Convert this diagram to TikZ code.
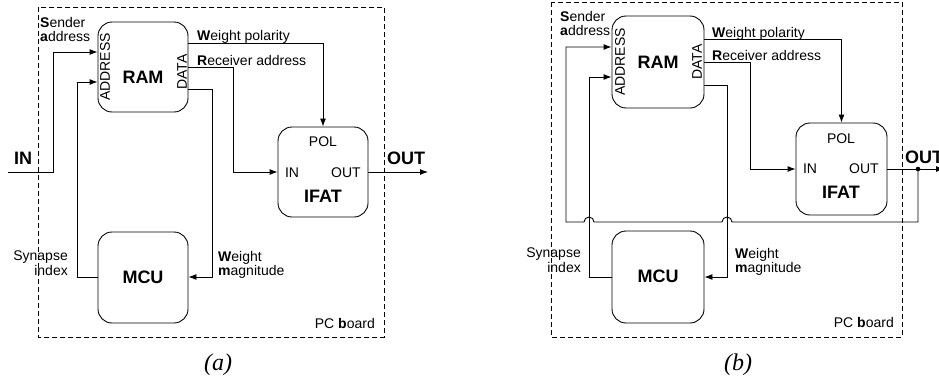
\documentclass[tikz,border=0pt]{standalone}
\usepackage{fontspec}
\setmainfont{Liberation Sans}
\newfontfamily\capserif{Liberation Serif}
\usetikzlibrary{arrows.meta}
\tikzset{
  blk/.style={draw, line width=0.9pt, rounded corners=14pt, minimum width=90pt, minimum height=90pt, inner sep=0},
  lbl/.style={font=\fontsize{14}{14.5}\selectfont, inner sep=0},
  big/.style={font=\fontsize{18}{20}\selectfont\bfseries, inner sep=0},
  arr/.style={line width=0.9pt, -{Latex[length=8pt,width=6pt]}},
  board/.style={line width=0.9pt, dash pattern=on 5pt off 3pt},
  captxt/.style={font=\fontsize{24}{26}\selectfont\capserif\itshape, inner sep=0}
}
\begin{document}
\begin{tikzpicture}[x=1pt,y=-1pt]
\useasboundingbox (0,0) rectangle (939,383);
% ================= panel (a) =================
\draw[board] (38,7) rectangle (384,337);
\node[blk] (ramA) at (143,67) {};
\node[blk] (ifatA) at (323,172) {};
\node[blk, minimum height=91pt] (mcuA) at (143,277.5) {};
\node[big] (ramAt) at (143,77) {RAM};
\node[lbl, rotate=90] (addrA) at (105,67) {ADDRESS};
\node[lbl, rotate=90] (dataA) at (182,72) {DATA};
\node[lbl] (polA) at (323,142) {POL};
\node[lbl] (inlA) at (292,173) {IN};
\node[lbl] (outlA) at (346,173) {OUT};
\node[big] (ifatAt) at (323,196) {IFAT};
\node[big] (mcuAt) at (143,277) {MCU};
\node[big] (inA-t) at (23,158) {IN};
\node[big] (outA-t) at (406,158) {OUT};
\node[lbl, anchor=north west, align=left] (sendA) at (40,17) {\textbf{S}ender\\\textbf{a}ddress};
\node[lbl, anchor=base west] (wpA) at (197,40) {\textbf{W}eight polarity};
\node[lbl, anchor=base west] (raA) at (197,65) {\textbf{R}eceiver address};
\node[lbl, anchor=north east, align=right] (synA) at (68,251) {Synapse\\index};
\node[lbl, anchor=north west, align=left] (wmA) at (218,251) {\textbf{W}eight\\\textbf{m}agnitude};
\node[lbl, anchor=base east] (pcA) at (375,328) {PC \textbf{b}oard};
\node[captxt] (capA) at (218,365) {(a)};
\coordinate (inA) at (8,172);
\coordinate (outA) at (428,172);
\draw[arr] (inA) -| (53,52) -- (ramA.west |- 0,52);
\draw[arr] (mcuA.west |- 0,277) -| (77,82) -- (ramA.west |- 0,82);
\draw[arr] (ramA.east |- 0,43) -| (ifatA.north);
\draw[arr] (ramA.east) -| (233,172) -- (ifatA.west);
\draw[arr] (ramA.east |- 0,89) -| (212,277) -- (mcuA.east |- 0,277);
\draw[arr] (ifatA.east) -- (outA);
% ================= panel (b) =================
\draw[board] (551,2) rectangle (902,337);
\node[blk, minimum width=92pt, minimum height=92pt] (ramB) at (658,62) {};
\node[blk, minimum width=91pt, minimum height=92pt] (ifatB) at (841.5,169) {};
\node[blk, minimum width=92pt, minimum height=92pt] (mcuB) at (658,277) {};
\node[big] (ramBt) at (658,62) {RAM};
\node[lbl, rotate=90] (addrB) at (620,62) {ADDRESS};
\node[lbl, rotate=90] (dataB) at (697,62) {DATA};
\node[lbl] (polB) at (841,139) {POL};
\node[lbl] (inlB) at (810,169) {IN};
\node[lbl] (outlB) at (864,169) {OUT};
\node[big] (ifatBt) at (841,192) {IFAT};
\node[big] (mcuBt) at (658,276) {MCU};
\node[big, anchor=west] (outB-t) at (905,157) {OUT};
\node[lbl, anchor=north west, align=left] (sendB) at (560,11) {\textbf{S}ender\\\textbf{a}ddress};
\node[lbl, anchor=base west] (wpB) at (712,37) {\textbf{W}eight polarity};
\node[lbl, anchor=base west] (raB) at (712,60) {\textbf{R}eceiver address};
\node[lbl, anchor=north east, align=right] (synB) at (581,248) {Synapse\\index};
\node[lbl, anchor=north west, align=left] (wmB) at (735,248) {\textbf{W}eight\\\textbf{m}agnitude};
\node[lbl, anchor=base east] (pcB) at (894,327) {PC \textbf{b}oard};
\node[captxt] (capB) at (738,365) {(b)};
\coordinate (dotB) at (918,169);
\coordinate (outB) at (944,169);
\draw[arr] (dotB) -- (918,222) -- (732,222) arc[start angle=0, end angle=-180, radius=5]
  -- (594,222) arc[start angle=0, end angle=-180, radius=5] -- (566,222) -- (566,47) -- (ramB.west |- 0,47);
\draw[arr] (mcuB.west) -| (589,77) -- (ramB.west |- 0,77);
\draw[arr] (ramB.east |- 0,39) -| (ifatB.north);
\draw[arr] (ramB.east) -| (750,169) -- (ifatB.west);
\draw[arr] (ramB.east |- 0,85) -| (727,277) -- (mcuB.east);
\draw[arr] (ifatB.east) -- (outB);
\fill (dotB) circle[radius=2.3];
\end{tikzpicture}
\end{document}
